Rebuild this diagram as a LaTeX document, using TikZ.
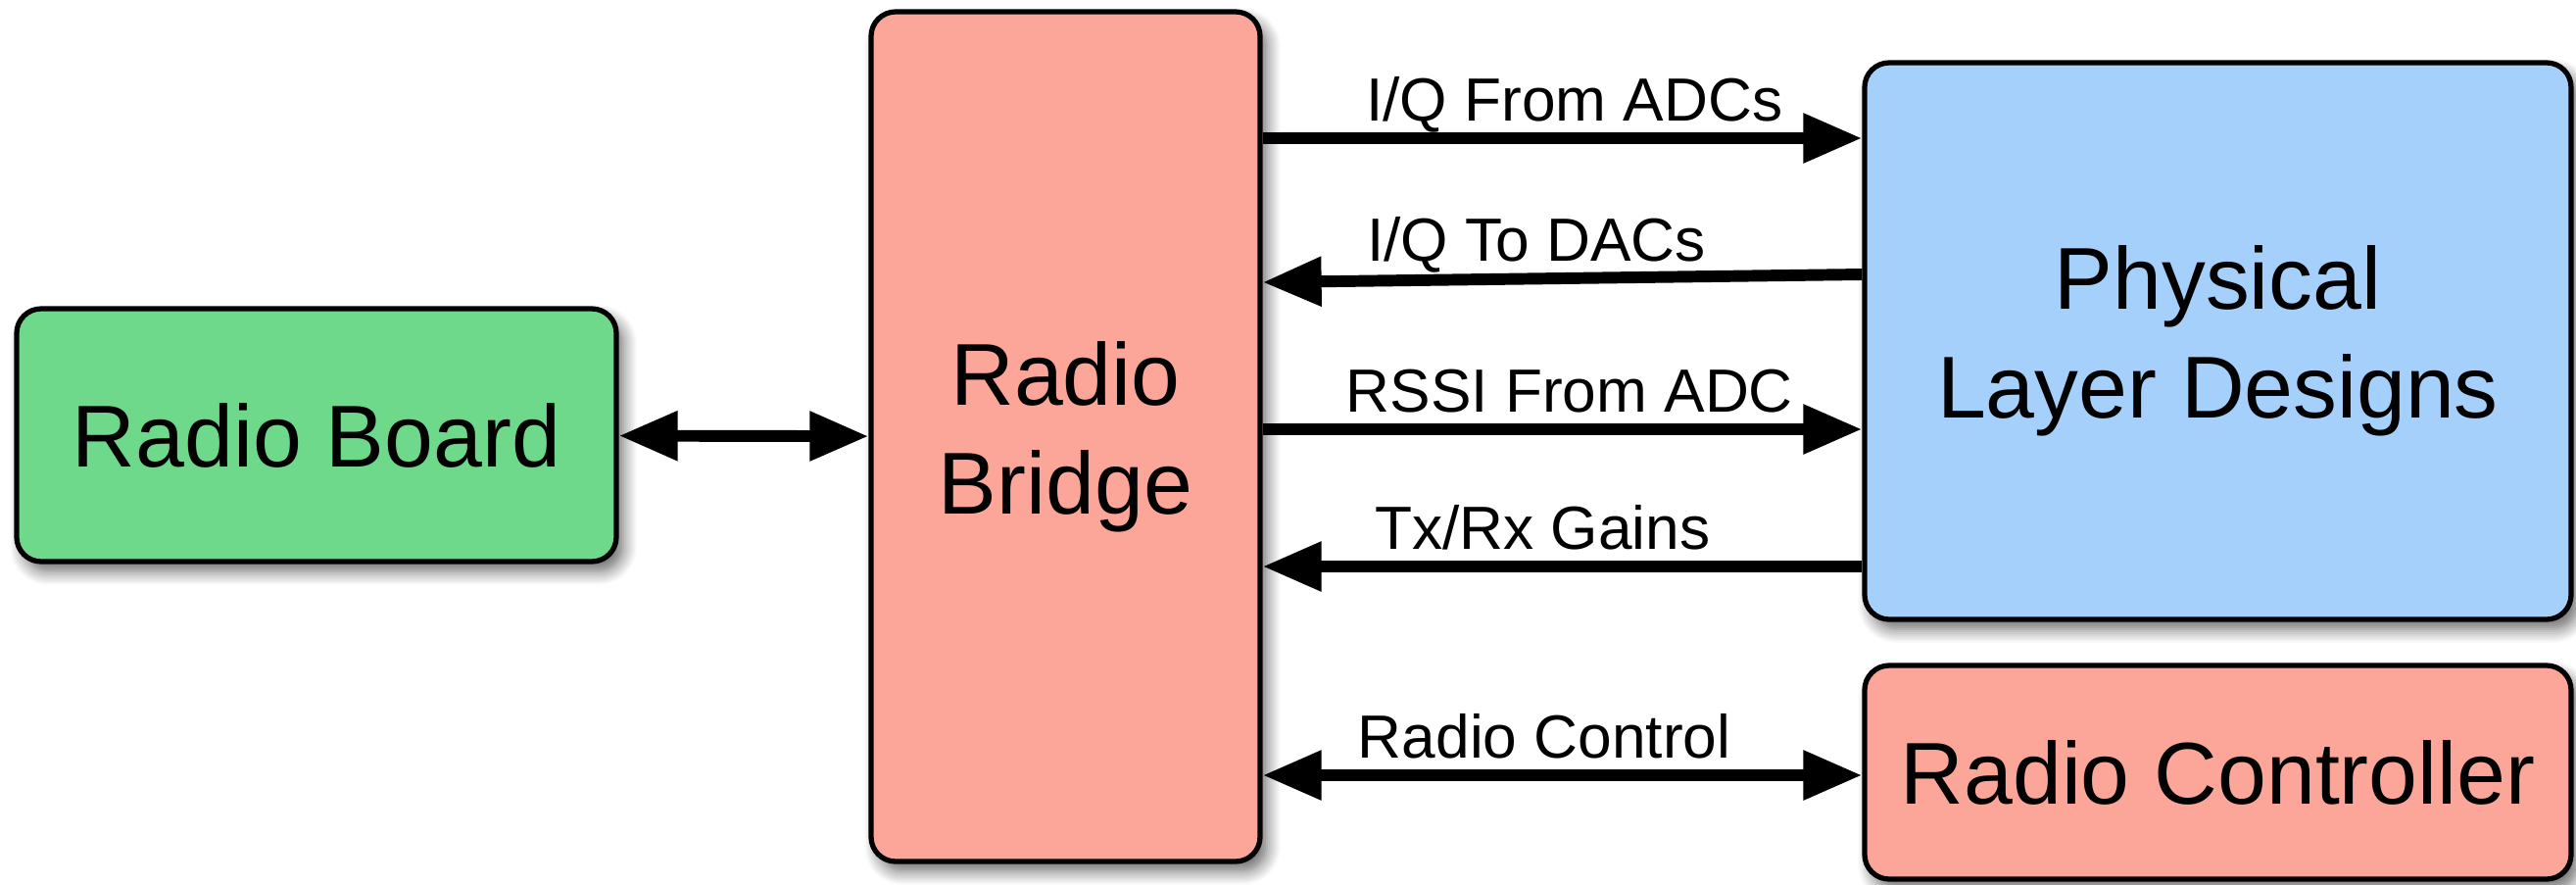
\documentclass[tikz,border=0pt]{standalone}
\usepackage{fontspec}
\setmainfont{Liberation Sans}
\usepackage{xcolor}
\usepackage{tikz}
\usetikzlibrary{positioning,arrows.meta,shadows.blur,calc}

\definecolor{boardgreen}{RGB}{110,217,138}
\definecolor{bridgepink}{RGB}{252,166,153}
\definecolor{phyblue}{RGB}{166,208,252}

\begin{document}
\begin{tikzpicture}[
    blk/.style={draw, line width=1.5pt, rounded corners=0.25cm, inner sep=0pt,
      align=center, font=\fontsize{25.5}{31.5}\selectfont,
      blur shadow={shadow xshift=0.07cm, shadow yshift=-0.1cm, shadow blur radius=0.14cm, shadow blur steps=8, shadow opacity=60}},
    link/.style={line width=3.4pt, -{Triangle[length=0.6cm, width=0.48cm]}},
    duallink/.style={line width=3.4pt, {Triangle[length=0.6cm, width=0.48cm]}-{Triangle[length=0.6cm, width=0.48cm]}},
    lbl/.style={font=\fontsize{17.7}{20}\selectfont, anchor=base, yshift=0.18cm, inner sep=0pt}
  ]
  \useasboundingbox (0,0) rectangle (26.29,9.02);

  % Blocks
  \node[blk, fill=boardgreen, minimum width=6.12cm, minimum height=2.58cm] (board) at (3.23, 4.58) {Radio Board};
  \node[blk, fill=bridgepink, minimum width=3.97cm, minimum height=8.67cm] (bridge) at (10.875, 4.565) {\raisebox{-0.08cm}{\parbox{3.5cm}{\centering Radio\\Bridge}}};
  \node[blk, fill=phyblue, minimum width=7.21cm, minimum height=5.68cm] (phy) at (22.635, 5.54) {\raisebox{-0.12cm}{\parbox{6.8cm}{\centering Physical\\Layer Designs}}};
  \node[blk, fill=bridgepink, minimum width=7.21cm, minimum height=2.18cm] (ctrl) at (22.635, 1.14) {Radio Controller};

  % Board <-> bridge
  \draw[duallink] (board) -- (bridge);

  % Bridge <-> physical layer
  \draw[link] (bridge.east |- 0,7.61) -- node[lbl, pos=0.52] {I/Q From ADCs} (phy.west |- 0,7.61);
  \draw[link] (phy.west |- 0,6.22) -- node[lbl, pos=0.543] {I/Q To DACs} (bridge.east |- 0,6.14);
  \draw[link] (bridge.east |- 0,4.64) -- node[lbl, pos=0.512] {RSSI From ADC} (phy.west |- 0,4.64);
  \draw[link] (phy.west |- 0,3.24) -- node[lbl, pos=0.533] {Tx/Rx Gains} (bridge.east |- 0,3.24);

  % Bridge <-> controller
  \draw[duallink] (bridge.east |- 0,1.11) -- node[lbl, pos=0.47] {Radio Control} (ctrl.west |- 0,1.11);

\end{tikzpicture}
\end{document}
